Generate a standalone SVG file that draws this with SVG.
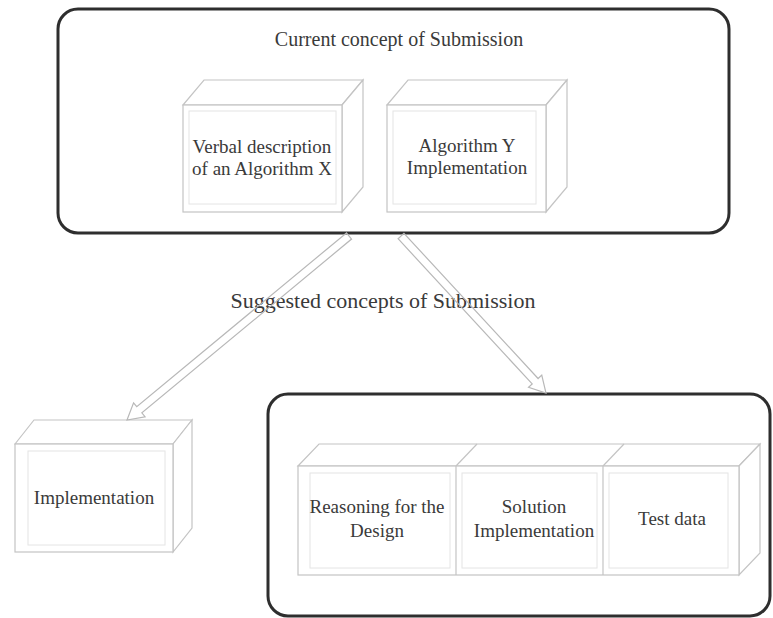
<svg xmlns="http://www.w3.org/2000/svg" width="773" height="618" viewBox="0 0 773 618">
<style>
.cont{fill:none;stroke:#2e2e2e;stroke-width:3}
.face{fill:#fff;stroke:#c4c4c4;stroke-width:1.2}
.inner{fill:none;stroke:#e4e4e4;stroke-width:1}
.lbl{font-family:"Liberation Serif","Times New Roman",serif;font-size:19px;fill:#3a3a3a;text-anchor:middle}
.title{font-family:"Liberation Serif","Times New Roman",serif;font-size:20px;fill:#3a3a3a;text-anchor:middle}
.big{font-family:"Liberation Serif","Times New Roman",serif;font-size:22px;fill:#3a3a3a;text-anchor:middle}
.arr{fill:none;stroke:#b8b8b8;stroke-width:1.2;stroke-linejoin:miter}
</style>
<rect width="773" height="618" fill="#fff"/>
<g id="current">
<rect class="cont" x="58" y="9" width="671" height="224" rx="20"/>
<text class="title" x="399" y="46">Current concept of Submission</text>
</g>
<g id="verbal">
<polygon class="face" points="183,105 204,80 363,80 342,105"/>
<polygon class="face" points="342,105 363,80 363,187 342,212"/>
<rect class="face" x="183" y="105" width="159" height="107"/>
<rect class="inner" x="189" y="111" width="147" height="93"/>
<text class="lbl" x="262" y="153">Verbal description</text>
<text class="lbl" x="262" y="175">of an Algorithm X</text>
</g>
<g id="algY">
<polygon class="face" points="387,105 408,80 567,80 546,105"/>
<polygon class="face" points="546,105 567,80 567,187 546,212"/>
<rect class="face" x="387" y="105" width="159" height="107"/>
<rect class="inner" x="393" y="111" width="143" height="93"/>
<text class="lbl" x="467" y="152">Algorithm Y</text>
<text class="lbl" x="467" y="174">Implementation</text>
</g>
<text class="big" x="383" y="308">Suggested concepts of Submission</text>
<g id="impl">
<polygon class="face" points="15,444 34,420 192,420 173,444"/>
<polygon class="face" points="173,444 192,420 192,528 173,552"/>
<rect class="face" x="15" y="444" width="158" height="108"/>
<rect class="inner" x="28" y="451" width="137" height="94"/>
<text class="lbl" x="94" y="504">Implementation</text>
</g>
<g id="suggested">
<rect class="cont" x="268" y="394" width="502" height="222" rx="20"/>
</g>
<g id="triple">
<polygon class="face" points="298,466 319,444 760,444 739,466"/>
<line class="face" x1="456" y1="466" x2="477" y2="444"/>
<line class="face" x1="603" y1="466" x2="624" y2="444"/>
<polygon class="face" points="739,466 760,444 760,553 739,575"/>
<rect class="face" x="298" y="466" width="441" height="109"/>
<line class="face" x1="456" y1="466" x2="456" y2="575"/>
<line class="face" x1="603" y1="466" x2="603" y2="575"/>
<rect class="inner" x="310" y="473" width="140" height="95"/>
<rect class="inner" x="462" y="473" width="135" height="95"/>
<rect class="inner" x="609" y="473" width="119" height="95"/>
</g>
<g id="reasoning"><text class="lbl" x="377" y="513">Reasoning for the</text><text class="lbl" x="377" y="537">Design</text></g>
<g id="solution"><text class="lbl" x="534" y="513">Solution</text><text class="lbl" x="534" y="537">Implementation</text></g>
<g id="testdata"><text class="lbl" x="672" y="525">Test data</text></g>
<g id="connectors">
<polygon class="arr" points="346.45,232.92 136.75,406.72 133.56,402.87 127,420 145.04,416.73 141.85,412.88 351.55,239.08"/>
<polygon class="arr" points="398.06,238.71 532.2,383.95 528.53,387.35 546,393 541.75,375.13 538.08,378.53 403.94,233.29"/>
</g>
</svg>
